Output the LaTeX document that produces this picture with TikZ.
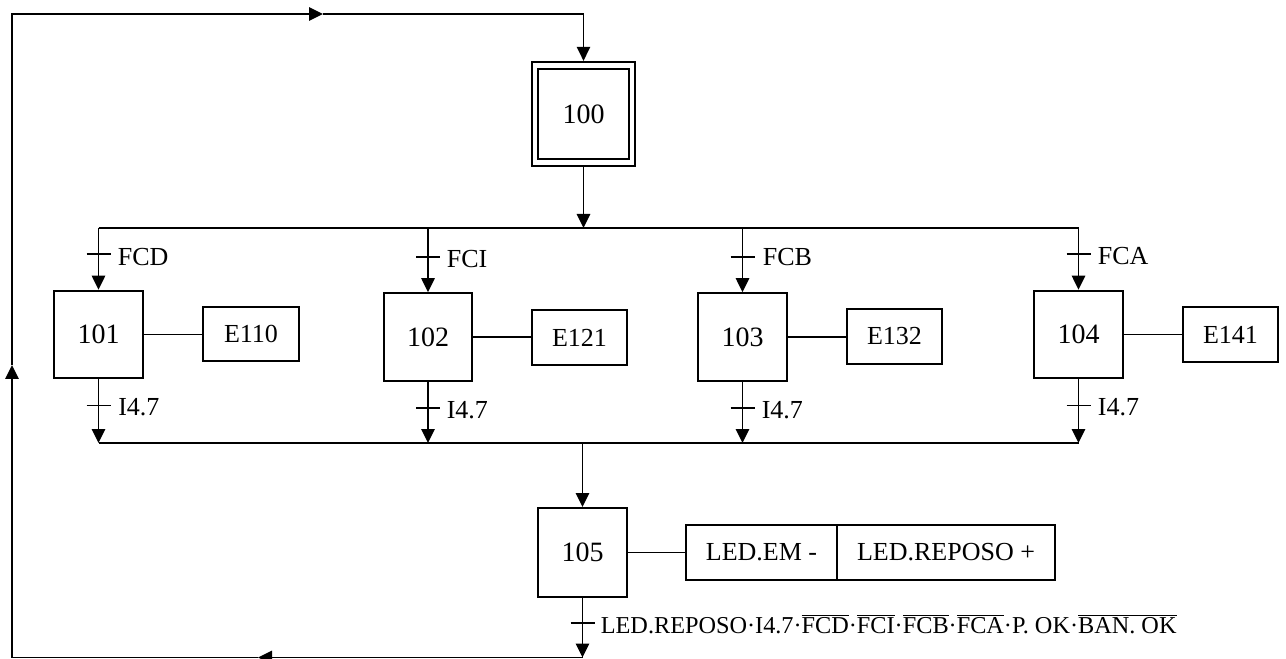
\documentclass[tikz,border=0pt]{standalone}
\usepackage{fontspec}
\setmainfont{Liberation Serif}
\usetikzlibrary{arrows.meta,calc}
\newcommand\ovl[1]{\ensuremath{\overline{\hbox{#1}}}}
\begin{document}
\begin{tikzpicture}[x=0.75pt,y=-0.75pt,
  line width=1.25pt,
  arr/.style={-{Triangle[length=10.5pt,width=10pt]}},
  stepbox/.style={draw,line width=1.7pt,minimum width=66.5pt,minimum height=65.5pt,inner sep=0pt,font=\fontsize{21}{25}\selectfont},
  actbox/.style={draw,line width=1.7pt,minimum width=71.5pt,minimum height=41pt,inner sep=0pt,font=\fontsize{19.5}{23}\selectfont},
  lbl/.style={anchor=base west,inner sep=0pt,font=\fontsize{19.5}{23}\selectfont}]
\useasboundingbox (0,0) rectangle (1286,659);

% steps
\node[stepbox,minimum width=77pt,minimum height=78pt] (s100) at (583.5,114) {100};
\node[draw,line width=1.7pt,minimum width=68.5pt,minimum height=67.5pt,inner sep=0pt] (s100in) at (s100.center) {};
\node[stepbox] (s101) at (98.5,334.5) {101};
\node[stepbox] (s102) at (428,337) {102};
\node[stepbox] (s103) at (742.5,337) {103};
\node[stepbox] (s104) at (1078.5,334.5) {104};
\node[stepbox,minimum height=66.5pt] (s105) at (582.5,552.5) {105};

% actions
\node[actbox] (e110) at (251,334) {E110};
\node[actbox] (e121) at (579.5,337.5) {E121};
\node[actbox] (e132) at (894.5,336.5) {E132};
\node[actbox] (e141) at (1230.5,334.5) {E141};
\node[actbox,minimum width=113pt] (a1) at (761.5,552.5) {LED.EM -};
\node[actbox,minimum width=163.5pt] (a2) at (946,552.5) {LED.REPOSO +};

\draw (s101.east) -- (s101.east -| e110.west);
\draw (s102.east) -- (s102.east -| e121.west);
\draw (s103.east) -- (s103.east -| e132.west);
\draw (s104.east) -- (s104.east -| e141.west);
\draw (s105.east) -- (s105.east -| a1.west);

% buses
\coordinate (bt1) at (98.5,228);
\coordinate (bt4) at (1078.5,228);
\coordinate (bb1) at (98.5,443);
\coordinate (bb4) at (1078.5,443);
\draw (bt1) -- (bt4);
\draw (bb1) -- (bb4);
\draw[arr] (s100.south) -- (s100.south |- bt1);
\draw[arr] (s105.north |- bb1) -- (s105.north);

% branches in
\draw[arr] (s101.north |- bt1) -- (s101.north);
\draw[arr] (s102.north |- bt1) -- (s102.north);
\draw[arr] (s103.north |- bt1) -- (s103.north);
\draw[arr] (s104.north |- bt1) -- (s104.north);
% branches out
\draw[arr] (s101.south) -- (s101.south |- bb1);
\draw[arr] (s102.south) -- (s102.south |- bb1);
\draw[arr] (s103.south) -- (s103.south |- bb1);
\draw[arr] (s104.south) -- (s104.south |- bb1);

% transitions
\draw (86.5,254) -- (110.5,254);   \node[lbl] (tfcd) at (117,266) {FCD};
\draw (416,257) -- (440,257);      \node[lbl] (tfci) at (446,267.5) {FCI};
\draw (730.5,257) -- (754.5,257);  \node[lbl] (tfcb) at (762,266) {FCB};
\draw (1066.5,254) -- (1090.5,254); \node[lbl] (tfca) at (1097,264.5) {FCA};
\draw (86.5,405.5) -- (110.5,405.5); \node[lbl] (ti1) at (117.5,416) {I4.7};
\draw (416,408) -- (440,408);      \node[lbl] (ti2) at (446,419) {I4.7};
\draw (730.5,408) -- (754.5,408);  \node[lbl] (ti3) at (761,419) {I4.7};
\draw (1066.5,405.5) -- (1090.5,405.5); \node[lbl] (ti4) at (1097,416) {I4.7};
\draw (570.5,623) -- (594.5,623);
\node[lbl,font=\fontsize{18.2}{21}\selectfont] (t105) at (600,633) {LED.REPOSO·I4.7·\ovl{FCD}·\ovl{FCI}·\ovl{FCB}·\ovl{FCA}·P. OK·\ovl{BAN. OK}};

% return loop
\coordinate (bot105) at (582.5,657.5);
\coordinate (botmid) at (258,657.5);
\coordinate (bl) at (12,657.5);
\coordinate (upmid) at (12,365);
\coordinate (tl) at (12,14);
\coordinate (topmid) at (323,14);
\coordinate (tr) at (583.5,14);
\draw[arr] (s105.south) -- (bot105);
\draw[arr] (bot105) -- (botmid);
\draw (botmid) -- (bl);
\draw[arr] (bl) -- (upmid);
\draw[arr] (upmid) -- (tl) -- (topmid);
\draw[arr] (topmid) -- (tr) -- (s100.north);
\end{tikzpicture}
\end{document}
